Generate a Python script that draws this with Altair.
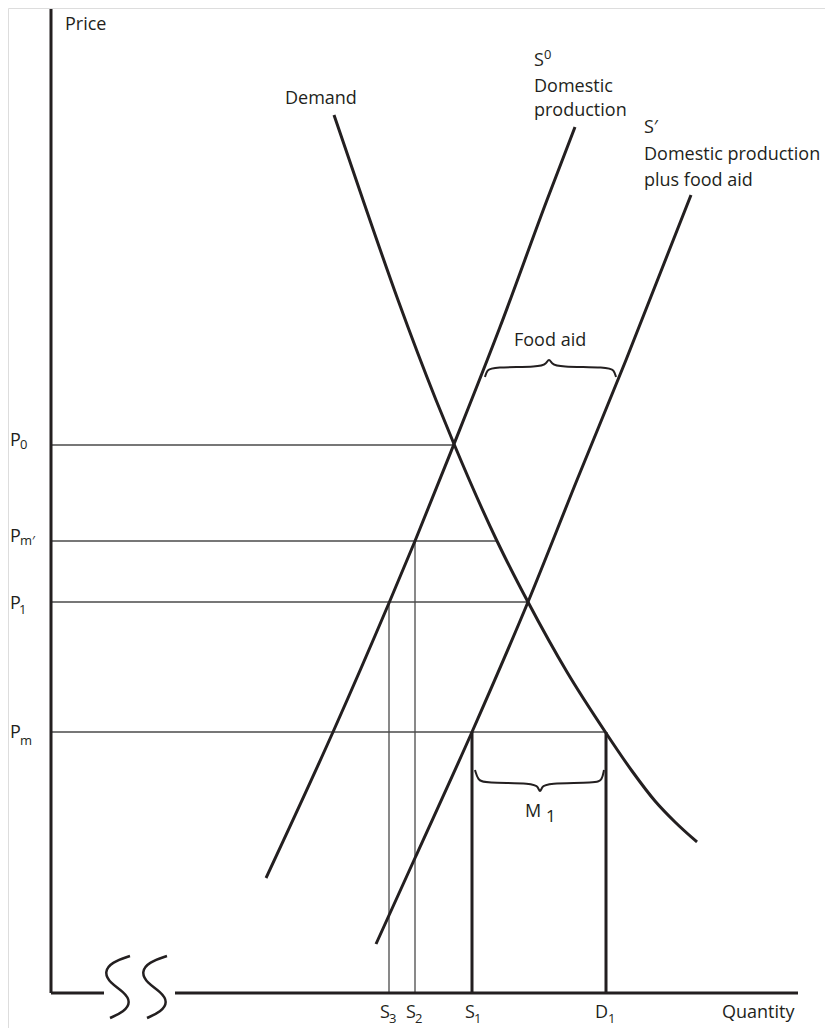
import altair as alt
import pandas as pd

# ---- data (quantity / price units) ----
demand_q = [28.3, 31.2, 34.7, 38.5, 40.3, 44.6, 47.7, 51.6, 55.5, 58.1, 60.4, 62.4, 64.6]
demand_p = [87.8, 79.3, 69.3, 59.3, 54.9, 45.2, 39.1, 32.1, 26.0, 22.2, 19.2, 17.1, 15.1]

s0_q = [21.5, 28.2, 33.8, 36.4, 40.3, 44.9, 49.6, 52.4]
s0_p = [11.5, 26.1, 39.0, 45.2, 54.9, 66.6, 79.3, 86.6]

s1_q = [32.5, 36.4, 42.1, 47.7, 52.6, 57.5, 64.0]
s1_p = [4.9, 13.5, 26.1, 39.1, 51.3, 63.3, 79.8]

price_names = ["P0", "Pm'", "P1", "Pm"]
price_levels = [54.8, 45.2, 39.1, 26.1]
price_line_end = [40.3, 44.6, 47.7, 55.5]

qty_names = ["S3", "S2", "S1", "D1"]
qty_levels = [33.8, 36.4, 42.1, 55.5]
qty_line_top = [39.1, 45.2, 26.1, 26.1]
qty_thick = [False, False, True, True]

aid_q = [43.4, 43.6, 44.2, 48.9, 49.5, 49.8, 50.1, 50.7, 55.7, 56.3, 56.5]
aid_p = [61.6, 62.3, 62.6, 62.6, 62.9, 63.5, 62.9, 62.6, 62.6, 62.3, 61.6]

m1_q = [42.4, 42.7, 43.3, 48.3, 48.7, 48.9, 49.1, 49.5, 54.6, 55.1, 55.3]
m1_p = [22.3, 21.3, 21.0, 21.0, 20.6, 20.0, 20.6, 21.0, 21.0, 21.3, 22.3]

brk_q = [7.9, 6.1, 5.3, 5.9, 7.3, 8.0, 7.3, 5.9]
brk_p = [3.7, 3.1, 2.1, 1.0, 0.1, -0.9, -1.9, -2.5]
brk_offset = [0.0, 3.7]

axis_top = 98.4
xaxis_segments = [(0.0, 5.3), (12.4, 74.7)]

INK = "#231f20"
THIN = "#4a4a4a"
FONT = "Open Sans"

# ---- tables ----
curves = pd.DataFrame(
    [{"s": "Demand", "o": i, "q": q, "p": p} for i, (q, p) in enumerate(zip(demand_q, demand_p))]
    + [{"s": "S0", "o": i, "q": q, "p": p} for i, (q, p) in enumerate(zip(s0_q, s0_p))]
    + [{"s": "S'", "o": i, "q": q, "p": p} for i, (q, p) in enumerate(zip(s1_q, s1_p))]
)

braces = pd.DataFrame(
    [{"s": "aid", "o": i, "q": q, "p": p} for i, (q, p) in enumerate(zip(aid_q, aid_p))]
    + [{"s": "m1", "o": i, "q": q, "p": p} for i, (q, p) in enumerate(zip(m1_q, m1_p))]
)

breaks = pd.DataFrame(
    [{"s": f"b{k}", "o": i, "q": q + off, "p": p}
     for k, off in enumerate(brk_offset)
     for i, (q, p) in enumerate(zip(brk_q, brk_p))]
)

hlines = pd.DataFrame({"name": price_names, "p": price_levels, "q0": 0.0, "q1": price_line_end})
vl = pd.DataFrame({"name": qty_names, "q": qty_levels, "p0": 0.0, "p1": qty_line_top, "thick": qty_thick})

axes = pd.DataFrame(
    [{"q0": 0.0, "q1": 0.0, "p0": 0.0, "p1": axis_top}]
    + [{"q0": a, "q1": b, "p0": 0.0, "p1": 0.0} for a, b in xaxis_segments]
)

big_labels = pd.DataFrame([
    {"t": "Price", "q": 1.4, "p": 96.3},
    {"t": "Demand", "q": 23.4, "p": 88.9},
    {"t": "S", "q": 48.3, "p": 92.7},
    {"t": "Domestic", "q": 48.3, "p": 90.1},
    {"t": "production", "q": 48.3, "p": 87.7},
    {"t": "S\u2032", "q": 59.3, "p": 86.0},
    {"t": "Domestic production", "q": 59.3, "p": 83.3},
    {"t": "plus food aid", "q": 59.3, "p": 80.7},
    {"t": "Food  aid", "q": 46.3, "p": 64.7},
    {"t": "P", "q": -4.1, "p": 54.7},
    {"t": "P", "q": -4.1, "p": 45.1},
    {"t": "P", "q": -4.1, "p": 38.4},
    {"t": "P", "q": -4.1, "p": 25.5},
    {"t": "M", "q": 47.4, "p": 17.6},
    {"t": "S", "q": 32.9, "p": -2.5},
    {"t": "S", "q": 35.5, "p": -2.5},
    {"t": "S", "q": 41.4, "p": -2.5},
    {"t": "D", "q": 54.4, "p": -2.5},
    {"t": "Quantity", "q": 67.1, "p": -2.5},
])

small_labels = pd.DataFrame([
    {"t": "0", "q": 49.3, "p": 93.4},
    {"t": "0", "q": -3.1, "p": 54.4},
    {"t": "m\u2032", "q": -3.1, "p": 44.8},
    {"t": "1", "q": -3.2, "p": 37.9},
    {"t": "m", "q": -3.1, "p": 24.8},
    {"t": "3", "q": 33.8, "p": -3.0},
    {"t": "2", "q": 36.4, "p": -3.0},
    {"t": "1", "q": 42.3, "p": -3.0},
    {"t": "1", "q": 55.7, "p": -3.0},
])

m_sub = pd.DataFrame([{"t": "1", "q": 49.5, "p": 17.1}])

# ---- scales ----
xs = alt.Scale(domain=[-4.3, 77.4], nice=False, zero=False)
ys = alt.Scale(domain=[-3.5, 98.5], nice=False, zero=False)
X = lambda f: alt.X(f, type="quantitative", scale=xs, axis=None)
Y = lambda f: alt.Y(f, type="quantitative", scale=ys, axis=None)

curve_layer = alt.Chart(curves).mark_line(
    color=INK, strokeWidth=3, interpolate="monotone", strokeCap="butt"
).encode(x=X("q"), y=Y("p"), detail="s:N", order="o:Q")

brace_layer = alt.Chart(braces).mark_line(
    color=INK, strokeWidth=2, interpolate="basis"
).encode(x=X("q"), y=Y("p"), detail="s:N", order="o:Q")

break_layer = alt.Chart(breaks).mark_line(
    color=INK, strokeWidth=2.5, interpolate="basis"
).encode(x=X("q"), y=Y("p"), detail="s:N", order="o:Q")

h_layer = alt.Chart(hlines).mark_rule(color=THIN, strokeWidth=1.3).encode(
    x=X("q0"), x2="q1", y=Y("p")
)

v_thin = alt.Chart(vl).transform_filter("!datum.thick").mark_rule(color=THIN, strokeWidth=1.3).encode(
    x=X("q"), y=Y("p0"), y2="p1"
)
v_thick = alt.Chart(vl).transform_filter("datum.thick").mark_rule(color=INK, strokeWidth=3).encode(
    x=X("q"), y=Y("p0"), y2="p1"
)

axis_layer = alt.Chart(axes).mark_rule(color=INK, strokeWidth=3).encode(
    x=X("q0"), x2="q1", y=Y("p0"), y2="p1"
)

big_text = alt.Chart(big_labels).mark_text(
    align="left", baseline="alphabetic", font=FONT, fontSize=18, color=INK
).encode(x=X("q"), y=Y("p"), text="t:N")

small_text = alt.Chart(small_labels).mark_text(
    align="left", baseline="alphabetic", font=FONT, fontSize=13, color=INK
).encode(x=X("q"), y=Y("p"), text="t:N")

m_text = alt.Chart(m_sub).mark_text(
    align="left", baseline="alphabetic", font=FONT, fontSize=17, color=INK
).encode(x=X("q"), y=Y("p"), text="t:N")

chart = alt.layer(
    h_layer, v_thin, v_thick, axis_layer, curve_layer, brace_layer, break_layer,
    big_text, small_text, m_text
).properties(
    width=817, height=1020, padding=0,
    autosize=alt.AutoSizeParams(type="none"),
).configure_view(stroke=None).configure(background="white")

chart.save("out.html", embed_options={"renderer": "svg", "actions": False})
